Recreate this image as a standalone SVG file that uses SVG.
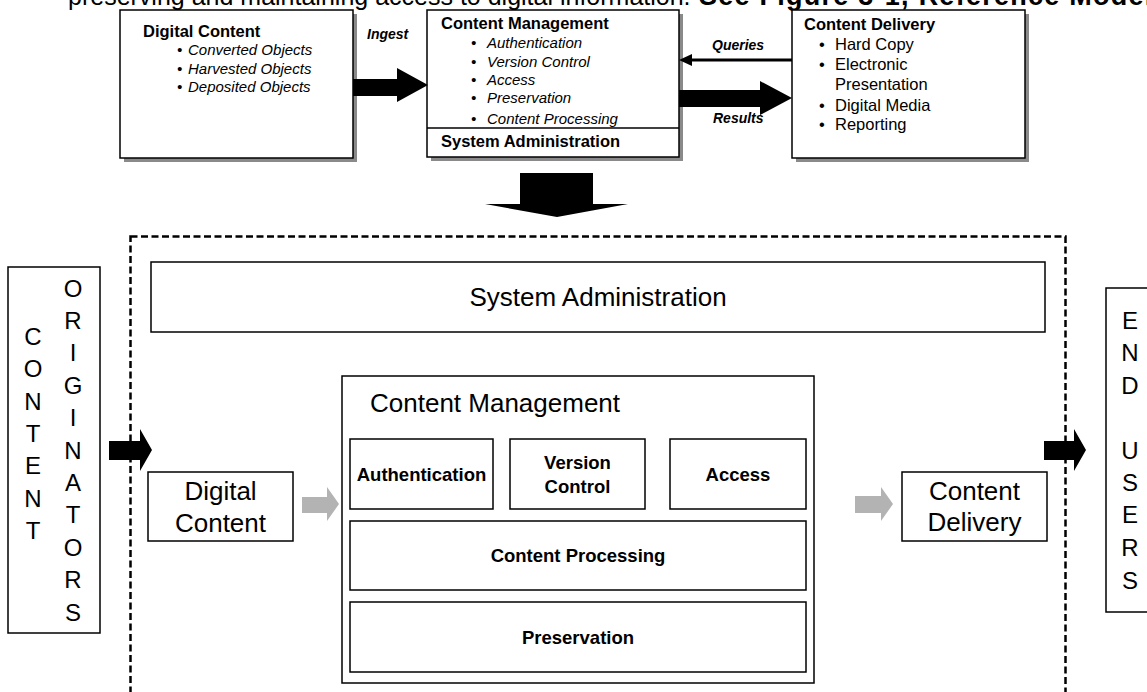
<svg xmlns="http://www.w3.org/2000/svg" width="1147" height="692" viewBox="0 0 1147 692">
<style>
text{font-family:"Liberation Sans",Arial,sans-serif;fill:#000}
.box{fill:#fff;stroke:#000;stroke-width:1.5}
.shadow{fill:#8a8a8a}
.ttl{font-size:16.5px;font-weight:bold}
.it{font-size:15px;font-style:italic}
.rg{font-size:16.5px}
.lbl{font-size:14px;font-weight:bold;font-style:italic}
.big{font-size:26px}
.bb{font-size:18.5px;font-weight:bold;text-anchor:middle}
.vl{font-size:24px;text-anchor:middle}
.blk{fill:#000}
.gry{fill:#b3b3b3}
</style>

<text id="caption" y="5"><tspan x="68" style="font-size:25px">preserving and maintaining access to digital information.</tspan><tspan x="699" style="font-size:27px;font-weight:bold" textLength="462" lengthAdjust="spacing">See Figure 3-1, Reference Model.</tspan></text>

<g id="top-digital-content">
  <rect class="shadow" x="124" y="14" width="233" height="148"/>
  <rect class="box" x="120" y="10" width="233" height="148"/>
  <text class="ttl" x="143" y="37">Digital Content</text>
  <text class="it" x="177" y="55">•</text><text class="it" x="188" y="55">Converted Objects</text>
  <text class="it" x="177" y="73.5">•</text><text class="it" x="188" y="73.5">Harvested Objects</text>
  <text class="it" x="177" y="92">•</text><text class="it" x="188" y="92">Deposited Objects</text>
</g>

<g id="top-content-management">
  <rect class="shadow" x="431" y="14" width="252" height="147"/>
  <rect class="box" x="427" y="10" width="252" height="147"/>
  <line x1="427" y1="128" x2="679" y2="128" stroke="#000" stroke-width="1.5"/>
  <text class="ttl" x="441" y="29">Content Management</text>
  <text class="it" x="471" y="48">•</text><text class="it" x="487" y="48">Authentication</text>
  <text class="it" x="471" y="67">•</text><text class="it" x="487" y="67">Version Control</text>
  <text class="it" x="471" y="85">•</text><text class="it" x="487" y="85">Access</text>
  <text class="it" x="471" y="103">•</text><text class="it" x="487" y="103">Preservation</text>
  <text class="it" x="471" y="124">•</text><text class="it" x="487" y="124">Content Processing</text>
  <text class="ttl" x="441" y="147">System Administration</text>
</g>

<g id="top-content-delivery">
  <rect class="shadow" x="796" y="14" width="233" height="148"/>
  <rect class="box" x="792" y="10" width="233" height="148"/>
  <text class="ttl" x="804" y="30">Content Delivery</text>
  <text class="rg" x="819" y="50">•</text><text class="rg" x="835" y="50">Hard Copy</text>
  <text class="rg" x="819" y="70">•</text><text class="rg" x="835" y="70">Electronic</text>
  <text class="rg" x="835" y="90">Presentation</text>
  <text class="rg" x="819" y="111">•</text><text class="rg" x="835" y="111">Digital Media</text>
  <text class="rg" x="819" y="130">•</text><text class="rg" x="835" y="130">Reporting</text>
</g>

<g id="top-connectors">
  <polygon class="blk" points="353,79 397,79 397,68 428,85 397,102 397,96 353,96"/>
  <text class="lbl" x="367" y="39">Ingest</text>
  <line x1="792" y1="60" x2="690" y2="60" stroke="#000" stroke-width="3"/>
  <polygon class="blk" points="679,60 692,54 692,66"/>
  <text class="lbl" x="712" y="50">Queries</text>
  <polygon class="blk" points="679,90 760,90 760,81 792,98 760,115 760,107 679,107"/>
  <text class="lbl" x="713" y="123">Results</text>
  <polygon class="blk" points="520,173 593,173 593,204 628,204 557,217 485,204 520,204"/>
</g>

<g id="originators">
  <rect class="box" x="8" y="267" width="92" height="366"/>
  <text class="vl" x="33" y="345">C</text>
  <text class="vl" x="33" y="377">O</text>
  <text class="vl" x="33" y="410">N</text>
  <text class="vl" x="33" y="442">T</text>
  <text class="vl" x="33" y="474">E</text>
  <text class="vl" x="33" y="507">N</text>
  <text class="vl" x="33" y="539">T</text>
  <text class="vl" x="73" y="297">O</text>
  <text class="vl" x="73" y="329">R</text>
  <text class="vl" x="73" y="361">I</text>
  <text class="vl" x="73" y="394">G</text>
  <text class="vl" x="73" y="426">I</text>
  <text class="vl" x="73" y="459">N</text>
  <text class="vl" x="73" y="491">A</text>
  <text class="vl" x="73" y="523">T</text>
  <text class="vl" x="73" y="556">O</text>
  <text class="vl" x="73" y="588">R</text>
  <text class="vl" x="73" y="621">S</text>
</g>

<g id="end-users">
  <rect class="box" x="1106" y="288" width="60" height="324"/>
  <text class="vl" x="1130" y="329">E</text>
  <text class="vl" x="1130" y="361">N</text>
  <text class="vl" x="1130" y="394">D</text>
  <text class="vl" x="1130" y="459">U</text>
  <text class="vl" x="1130" y="491">S</text>
  <text class="vl" x="1130" y="523">E</text>
  <text class="vl" x="1130" y="556">R</text>
  <text class="vl" x="1130" y="589">S</text>
</g>

<g id="system-administration">
  <rect class="box" x="151" y="262" width="894" height="70"/>
  <text class="big" x="598" y="306" text-anchor="middle">System Administration</text>
</g>

<g id="digital-content">
  <rect class="box" x="148" y="472" width="145" height="69"/>
  <text class="big" x="220.5" y="500" text-anchor="middle">Digital</text>
  <text class="big" x="220.5" y="532" text-anchor="middle">Content</text>
</g>

<g id="content-management">
  <rect class="box" x="342" y="376" width="472" height="307"/>
  <text class="big" x="370" y="412">Content Management</text>
  <g id="authentication">
    <rect class="box" x="350" y="439" width="143" height="70"/>
    <text class="bb" x="421.5" y="481">Authentication</text>
  </g>
  <g id="version-control">
    <rect class="box" x="510" y="439" width="135" height="70"/>
    <text class="bb" x="577.5" y="469">Version</text>
    <text class="bb" x="577.5" y="493">Control</text>
  </g>
  <g id="access">
    <rect class="box" x="670" y="439" width="136" height="70"/>
    <text class="bb" x="738" y="481">Access</text>
  </g>
  <g id="content-processing">
    <rect class="box" x="350" y="521" width="456" height="69"/>
    <text class="bb" x="578" y="562">Content Processing</text>
  </g>
  <g id="preservation">
    <rect class="box" x="350" y="602" width="456" height="70"/>
    <text class="bb" x="578" y="644">Preservation</text>
  </g>
</g>

<g id="content-delivery">
  <rect class="box" x="902" y="472" width="145" height="69"/>
  <text class="big" x="974.5" y="500" text-anchor="middle">Content</text>
  <text class="big" x="974.5" y="531" text-anchor="middle">Delivery</text>
</g>

<g id="connectors">
  <polygon class="blk" points="109,441 140,441 140,429 152,450 140,471 140,460 109,460"/>
  <polygon class="blk" points="1044,441 1074,441 1074,429 1086,450 1074,471 1074,460 1044,460"/>
  <polygon class="gry" points="302,497 327,497 327,487 339,504 327,521 327,513 302,513"/>
  <polygon class="gry" points="855,496 881,496 881,487 893,504 881,521 881,513 855,513"/>
  <rect x="130.5" y="236.5" width="935" height="480" fill="none" stroke="#000" stroke-width="2.5" stroke-dasharray="7 3.5"/>
</g>
</svg>
